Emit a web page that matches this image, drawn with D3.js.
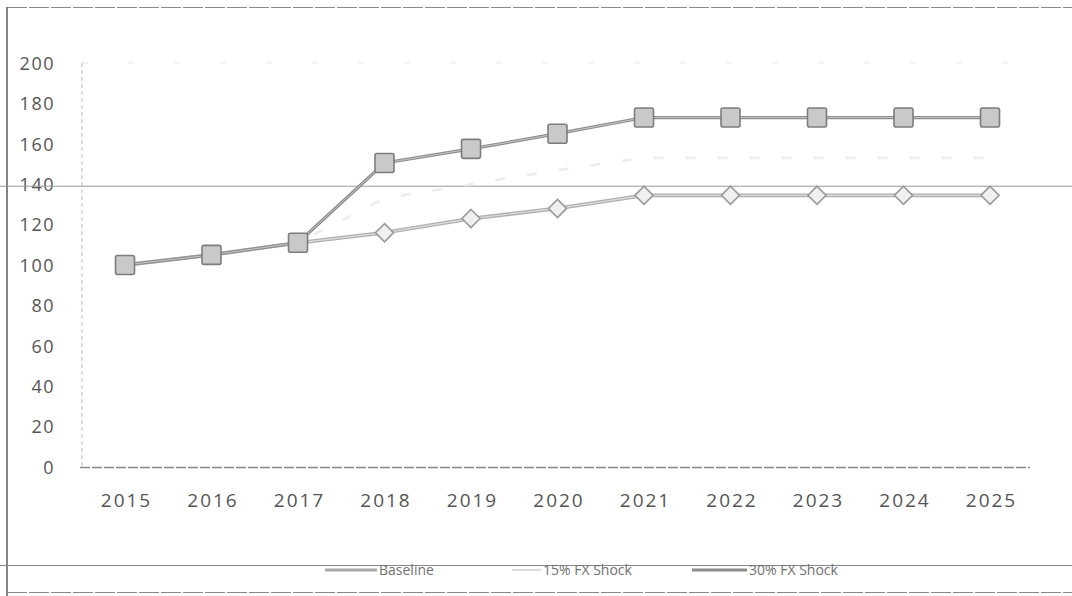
<!DOCTYPE html>
<html>
<head>
<meta charset="utf-8">
<script src="https://cdn.jsdelivr.net/npm/d3@7"></script>
<style>
  html, body { margin: 0; padding: 0; background: #fff; }
  svg { display: block; }
  text { font-family: "Open Sans", "Liberation Sans", sans-serif; }
</style>
</head>
<body>
<svg id="chart" width="1072" height="596"></svg>
<script>
// Index path under three FX scenarios, 2015 = 100
const years = ["2015", "2016", "2017", "2018", "2019", "2020", "2021", "2022", "2023", "2024", "2025"];
const baseline = [100, 105, 111, 116, 123, 128, 134.5, 134.5, 134.5, 134.5, 134.5];
const shock15 = [100, 105, 111, 133, 140, 147, 153, 153, 153, 153, 153];
const shock30 = [100, 105, 111, 150.5, 157.5, 165, 173, 173, 173, 173, 173];
const yTicks = [0, 20, 40, 60, 80, 100, 120, 140, 160, 180, 200];
const seriesNames = ["Baseline", "15% FX Shock", "30% FX Shock"];
const refLevel = 139;

const svg = d3.select("#chart");
const W = 1072, H = 596;

const x = d3.scalePoint().domain(years).range([125, 990]);
const y = d3.scaleLinear().domain([0, 200]).range([467, 63]);

// outer frame
const frame = svg.append("g").attr("stroke", "#666").attr("fill", "none");
frame.append("line").attr("x1", 7).attr("x2", 7).attr("y1", 7).attr("y2", 596).attr("stroke-width", 1.6);
frame.append("line").attr("x1", 7).attr("x2", W).attr("y1", 7.5).attr("y2", 7.5).attr("stroke-width", 1).attr("stroke", "#888").attr("stroke-dasharray", "20,2");
frame.append("line").attr("x1", 7).attr("x2", W).attr("y1", 592.5).attr("y2", 592.5).attr("stroke-width", 1).attr("stroke", "#888").attr("stroke-dasharray", "20,2");
frame.append("line").attr("x1", 0).attr("x2", W).attr("y1", 565.5).attr("y2", 565.5).attr("stroke-width", 1).attr("stroke", "#888");

// faint top gridline
svg.append("line")
  .attr("x1", 82).attr("x2", 1030)
  .attr("y1", y(200)).attr("y2", y(200))
  .attr("stroke", "#e8e8e8").attr("stroke-dasharray", "6,40");

// y axis line (dotted)
svg.append("line")
  .attr("x1", 82).attr("x2", 82)
  .attr("y1", y(200)).attr("y2", y(0))
  .attr("stroke", "#bdbdbd").attr("stroke-dasharray", "4,3");

// x axis line
svg.append("line")
  .attr("x1", 80).attr("x2", 1030)
  .attr("y1", y(0) + 0.5).attr("y2", y(0) + 0.5)
  .attr("stroke", "#8a8a8a").attr("stroke-width", 1.4).attr("stroke-dasharray", "10,2");

// y tick labels, right aligned
const yAxis = d3.axisLeft(y).tickValues(yTicks).tickSize(0).tickPadding(0);
const gy = svg.append("g").attr("transform", "translate(55,0)").call(yAxis);
gy.select(".domain").remove();
gy.selectAll("text")
  .attr("text-anchor", "end")
  .attr("fill", "#555").attr("font-size", 18).attr("letter-spacing", "1.5px")
  .attr("dy", "0.35em");

// x tick labels
const xAxis = d3.axisBottom(x).tickSize(0).tickPadding(0);
const gx = svg.append("g").attr("transform", "translate(1,500)").call(xAxis);
gx.select(".domain").remove();
gx.selectAll("text").attr("fill", "#555").attr("font-size", 19).attr("dy", "0.35em").attr("letter-spacing", "2px");

// long horizontal rule across the sheet
svg.append("line")
  .attr("x1", 0).attr("x2", W)
  .attr("y1", y(refLevel)).attr("y2", y(refLevel))
  .attr("stroke", "#9a9a9a").attr("stroke-width", 1);

const line = d3.line().x((d, i) => x(years[i])).y(d => y(d));

// 15% FX shock: very faint line
svg.append("path").datum(shock15)
  .attr("d", line).attr("fill", "none")
  .attr("stroke", "#ececec").attr("stroke-width", 2.5)
  .attr("stroke-dasharray", "10,22");

// Baseline
svg.append("path").datum(baseline)
  .attr("d", line).attr("fill", "none")
  .attr("stroke", "#b0b0b0").attr("stroke-width", 3.8);
svg.append("path").datum(baseline)
  .attr("d", line).attr("fill", "none")
  .attr("stroke", "#dcdcdc").attr("stroke-width", 1.2);

// 30% FX shock
svg.append("path").datum(shock30)
  .attr("d", line).attr("fill", "none")
  .attr("stroke", "#8c8c8c").attr("stroke-width", 3.2);
svg.append("path").datum(shock30)
  .attr("d", line).attr("fill", "none")
  .attr("stroke", "#c8c8c8").attr("stroke-width", 1);

// diamonds (baseline)
const diamond = d3.symbol().type(d3.symbolDiamond2).size(210);
svg.append("g").selectAll("path").data(baseline).join("path")
  .attr("d", diamond)
  .attr("transform", (d, i) => `translate(${x(years[i])},${y(d)})`)
  .attr("fill", "#f0f0f0").attr("stroke", "#9a9a9a").attr("stroke-width", 1.6);

// squares (30% shock)
const sq = 19;
svg.append("g").selectAll("rect").data(shock30).join("rect")
  .attr("x", (d, i) => x(years[i]) - sq / 2)
  .attr("y", d => y(d) - sq / 2)
  .attr("width", sq).attr("height", sq).attr("rx", 2)
  .attr("fill", "#c9c9c9").attr("stroke", "#7d7d7d").attr("stroke-width", 1.6);

// legend
const legend = svg.append("g").attr("font-size", 14);
const legendItems = [
  { name: seriesNames[0], x0: 325, x1: 377, stroke: "#a8a8a8", w: 3 },
  { name: seriesNames[1], x0: 512, x1: 541, stroke: "#d0d0d0", w: 1.5 },
  { name: seriesNames[2], x0: 692, x1: 747, stroke: "#8c8c8c", w: 3 }
];
legendItems.forEach(it => {
  legend.append("line")
    .attr("x1", it.x0).attr("x2", it.x1).attr("y1", 570).attr("y2", 570)
    .attr("stroke", it.stroke).attr("stroke-width", it.w);
  legend.append("text")
    .attr("x", it.x1 + 2).attr("y", 570).attr("dy", "0.35em")
    .attr("fill", "#707070").text(it.name);
});
</script>
</body>
</html>
